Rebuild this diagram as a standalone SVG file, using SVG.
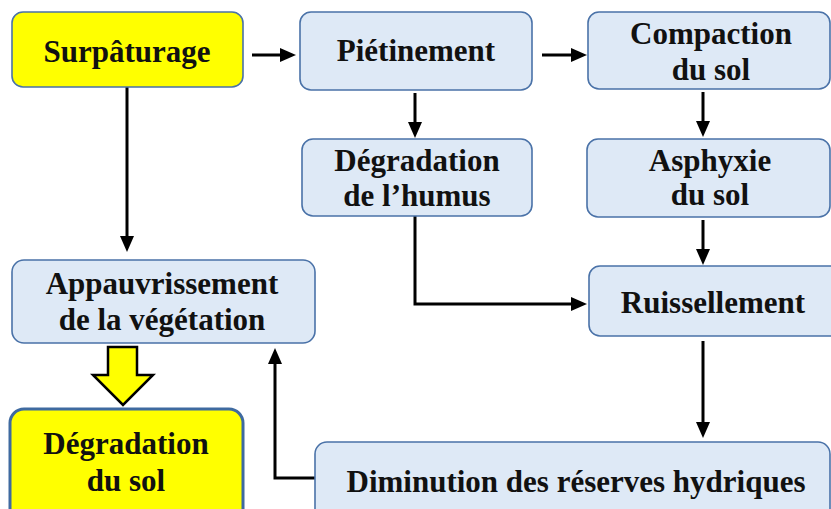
<svg xmlns="http://www.w3.org/2000/svg" width="831" height="509" viewBox="0 0 831 509">
  <style>
    .box { fill: #dee9f6; stroke: #4a72a8; stroke-width: 1.6; }
    .key { fill: #ffff00; stroke: #4a72a8; stroke-width: 1.6; }
    .key-thick { fill: #ffff00; stroke: #3f6aa0; stroke-width: 3; }
    .lbl { font-weight: bold; font-size: 31px; fill: #111; text-anchor: middle; }
    .wire { fill: none; stroke: #000; stroke-width: 3; }
  </style>
  <defs>
    <marker id="head" viewBox="0 0 16 14" markerWidth="16" markerHeight="14" markerUnits="userSpaceOnUse" refX="6" refY="7" orient="auto">
      <path d="M0,0 L16,7 L0,14 Z" fill="#000"/>
    </marker>
  </defs>
  <rect width="831" height="509" fill="#ffffff"/>

  <g id="connectors">
    <line class="wire" x1="252" y1="55" x2="286" y2="55" marker-end="url(#head)"/>
    <line class="wire" x1="542" y1="55" x2="577" y2="55" marker-end="url(#head)"/>
    <line class="wire" x1="415" y1="93" x2="415" y2="128" marker-end="url(#head)"/>
    <line class="wire" x1="703" y1="92" x2="703" y2="127" marker-end="url(#head)"/>
    <line class="wire" x1="703" y1="220" x2="703" y2="255" marker-end="url(#head)"/>
    <polyline class="wire" points="415,216 415,304 577,304" marker-end="url(#head)"/>
    <line class="wire" x1="703" y1="341" x2="703" y2="428" marker-end="url(#head)"/>
    <line class="wire" x1="127" y1="87" x2="127" y2="242" marker-end="url(#head)"/>
    <polyline class="wire" points="315,478 275,478 275,358" marker-end="url(#head)"/>
    <!-- hollow yellow block arrow -->
    <path d="M108,347 H137 V375 H153 L123,405 L93,375 H108 Z" fill="#ffff00" stroke="#000" stroke-width="2.5" stroke-linejoin="miter"/>
  </g>

  <g font-family="'Liberation Serif', 'Times New Roman', 'DejaVu Serif', serif">
  <g id="surpaturage">
    <rect class="key" x="12" y="12" width="231" height="75" rx="11"/>
    <text class="lbl" x="127" y="62">Surpâturage</text>
  </g>

  <g id="pietinement">
    <rect class="box" x="300" y="12" width="232" height="78" rx="11"/>
    <text class="lbl" x="416" y="61">Piétinement</text>
  </g>

  <g id="compaction">
    <rect class="box" x="588" y="12" width="242" height="77" rx="11"/>
    <text class="lbl" x="711" y="44">Compaction</text>
    <text class="lbl" x="711" y="80">du sol</text>
  </g>

  <g id="humus">
    <rect class="box" x="302" y="139" width="230" height="77" rx="11"/>
    <text class="lbl" x="417" y="171">Dégradation</text>
    <text class="lbl" x="417" y="206">de l’humus</text>
  </g>

  <g id="asphyxie">
    <rect class="box" x="587" y="139" width="243" height="78" rx="11"/>
    <text class="lbl" x="710" y="171">Asphyxie</text>
    <text class="lbl" x="710" y="205">du sol</text>
  </g>

  <g id="ruissellement">
    <rect class="box" x="589" y="266" width="260" height="70" rx="11"/>
    <text class="lbl" x="713" y="313">Ruissellement</text>
  </g>

  <g id="appauvrissement">
    <rect class="box" x="12" y="260" width="303" height="83" rx="12"/>
    <text class="lbl" x="162" y="294">Appauvrissement</text>
    <text class="lbl" x="162" y="330">de la végétation</text>
  </g>

  <g id="degradation-sol">
    <rect class="key-thick" x="10" y="409" width="233" height="115" rx="14"/>
    <text class="lbl" x="126" y="454">Dégradation</text>
    <text class="lbl" x="126" y="491">du sol</text>
  </g>

  <g id="diminution">
    <rect class="box" x="315" y="442" width="515" height="85" rx="12"/>
    <text class="lbl" x="576" y="492">Diminution des réserves hydriques</text>
  </g>
  </g>
</svg>
